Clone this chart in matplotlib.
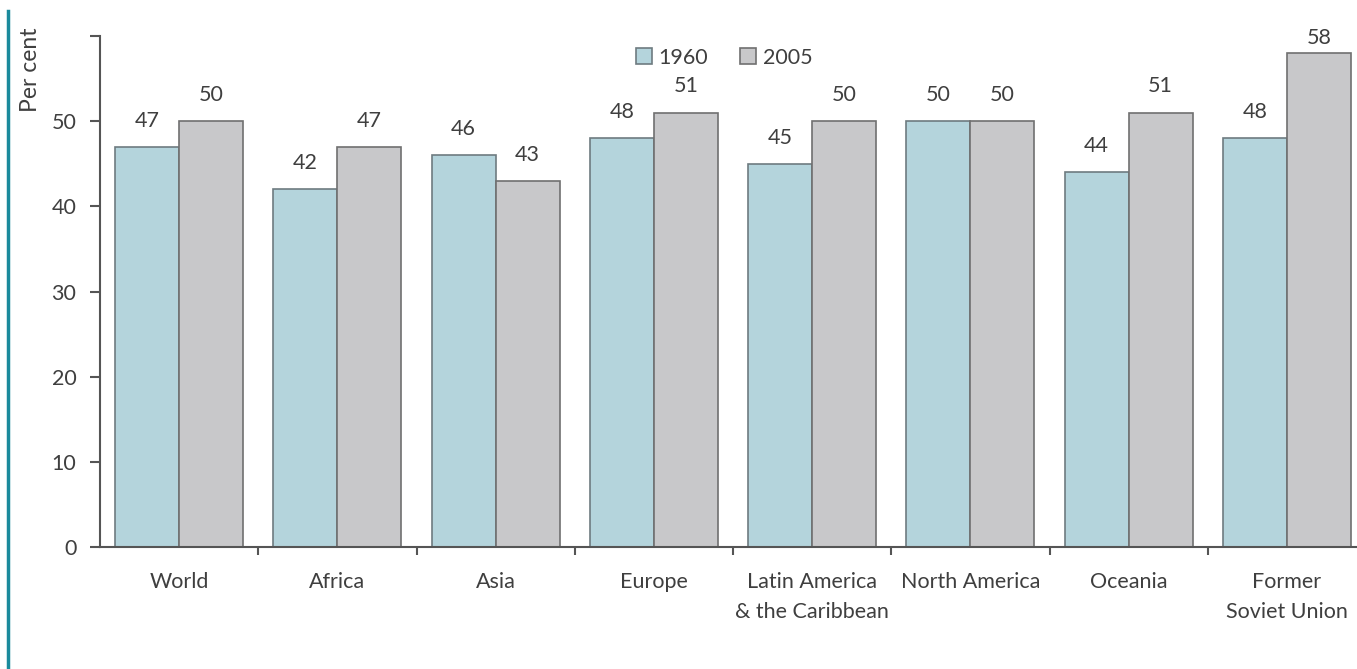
import numpy as np
import matplotlib.pyplot as plt
from matplotlib.lines import Line2D

regions = ["World", "Africa", "Asia", "Europe", "Latin America\n& the Caribbean",
           "North America", "Oceania", "Former\nSoviet Union"]
share_1960 = [47, 42, 46, 48, 45, 50, 44, 48]
share_2005 = [50, 47, 43, 51, 50, 50, 51, 58]
years = ["1960", "2005"]

plt.rcParams["font.family"] = ["Lato", "DejaVu Sans"]
text_col = "#3f3f3f"
axis_col = "#555555"
fs = 15.5

fig = plt.figure(figsize=(13.57, 6.69), dpi=100)
# axes from x=100px to ~1366px, y from 547px (0) to 36px (60)
ax = fig.add_axes([100 / 1357, 1 - 547 / 669, 1266 / 1357, 511 / 669])

x = np.arange(len(regions))
w = 0.405
b1 = ax.bar(x - w / 2, share_1960, w, color="#b4d4dc", edgecolor="#6e7b80", linewidth=1.2, label=years[0])
b2 = ax.bar(x + w / 2, share_2005, w, color="#c8c8ca", edgecolor="#707070", linewidth=1.2, label=years[1])

for bars in (b1, b2):
    for r in bars:
        h = r.get_height()
        # labels are kept inside the plot area, as in the original
        ax.text(r.get_x() + r.get_width() / 2, min(h + 1.9, 58.6), f"{h:.0f}",
                ha="center", va="bottom", fontsize=fs, color=text_col)

ax.set_xlim(-0.5, len(regions) - 0.5)
ax.set_ylim(0, 60)
ax.set_yticks([0, 10, 20, 30, 40, 50, 60])
ax.set_yticklabels(["0", "10", "20", "30", "40", "50", ""])
ax.set_xticks(x)
ax.set_xticklabels(regions, fontsize=fs, color=text_col, linespacing=1.6)
ax.set_xticks(np.arange(0.5, len(regions) - 0.5, 1), minor=True)
ax.tick_params(axis="x", which="major", length=0, pad=18)
ax.tick_params(axis="x", which="minor", length=6, direction="out", color=axis_col, width=1.5)
ax.tick_params(axis="y", length=7, direction="out", color=axis_col, width=1.5,
               labelsize=fs, labelcolor=text_col, pad=10)

for s in ("top", "right"):
    ax.spines[s].set_visible(False)
for s in ("left", "bottom"):
    ax.spines[s].set_color(axis_col)
    ax.spines[s].set_linewidth(1.5)

ax.set_ylabel("Per cent", fontsize=16.5, color=text_col)
ax.yaxis.set_label_coords(-0.0466, 0.933)

leg = ax.legend(loc="upper center", bbox_to_anchor=(0.493, 1.015), ncol=2, frameon=False,
                fontsize=fs, handlelength=0.75, handleheight=0.75, handletextpad=0.3,
                columnspacing=1.5, labelcolor=text_col)

# teal rule on the left edge
fig.add_artist(Line2D([7.5 / 1357, 7.5 / 1357], [0, 1 - 11 / 669], color="#1a8a9c", linewidth=2.5))

fig.savefig("out.png", dpi=100)
